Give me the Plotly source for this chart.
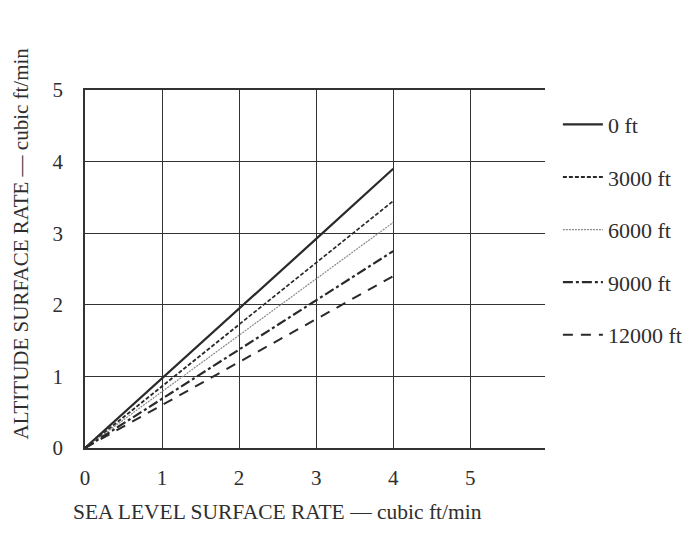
import plotly.graph_objects as go

# Sea level surface rate (cubic ft/min)
sea_level_rate = [0, 1, 2, 3, 4]

# Altitude surface rate for each altitude (cubic ft/min)
altitudes = ["0 ft", "3000 ft", "6000 ft", "9000 ft", "12000 ft"]
rate_0ft = [0, 0.97, 1.95, 2.92, 3.9]
rate_3000ft = [0, 0.86, 1.72, 2.58, 3.45]
rate_6000ft = [0, 0.79, 1.58, 2.36, 3.15]
rate_9000ft = [0, 0.69, 1.38, 2.06, 2.75]
rate_12000ft = [0, 0.6, 1.2, 1.8, 2.4]

x_ticks = [0, 1, 2, 3, 4, 5]
y_ticks = [0, 1, 2, 3, 4, 5]

series = [rate_0ft, rate_3000ft, rate_6000ft, rate_9000ft, rate_12000ft]
styles = [
    dict(color="#2a2a2a", width=2.2, dash="solid"),
    dict(color="#2a2a2a", width=1.8, dash="4px,2px"),
    dict(color="#8a8a8a", width=1.2, dash="2px,1px"),
    dict(color="#2a2a2a", width=2.2, dash="10px,3px,3px,3px"),
    dict(color="#2a2a2a", width=2.0, dash="10px,8px"),
]

SERIF = "Liberation Serif, DejaVu Serif, serif"
INK = "#2e2e2e"

fig = go.Figure()
for i, (name, ys, st) in enumerate(zip(altitudes, series, styles)):
    fig.add_trace(go.Scatter(
        x=sea_level_rate, y=ys, mode="lines", name=name,
        line=st, legendgroup=f"g{i}",
    ))

axis_common = dict(
    showgrid=True, gridcolor="#333333", gridwidth=1.3,
    zeroline=False, showline=True, linecolor="#333333", linewidth=1.5,
    ticks="", tickfont=dict(family=SERIF, size=21, color=INK),
)

fig.update_xaxes(range=[0, 5.97], tickvals=x_ticks, ticktext=[str(v) for v in x_ticks],
                 mirror=True, ticklabelstandoff=10, **axis_common)
fig.update_yaxes(range=[0, 5], tickvals=y_ticks, ticktext=[str(v) for v in y_ticks],
                 ticklabelstandoff=16, **axis_common)

fig.add_annotation(text="SEA LEVEL SURFACE RATE — cubic ft/min", xref="paper", yref="paper",
                   x=-0.03, y=-0.18, xanchor="left", yanchor="middle", showarrow=False,
                   font=dict(family=SERIF, size=21.5, color=INK))
fig.add_annotation(text="ALTITUDE SURFACE RATE — cubic ft/min", xref="paper", yref="paper",
                   x=-0.14, y=0.57, xanchor="center", yanchor="middle", showarrow=False,
                   textangle=-90, font=dict(family=SERIF, size=21, color=INK))

fig.update_layout(
    width=687, height=537,
    margin=dict(l=85, r=142, t=90, b=89, autoexpand=False),
    paper_bgcolor="white", plot_bgcolor="white",
    showlegend=True,
    legend=dict(x=1.028, xanchor="left", y=0.962, yanchor="top",
                font=dict(family=SERIF, size=22, color=INK),
                tracegroupgap=21, bgcolor="rgba(0,0,0,0)", itemwidth=40),
)

fig.write_html("out.html")
